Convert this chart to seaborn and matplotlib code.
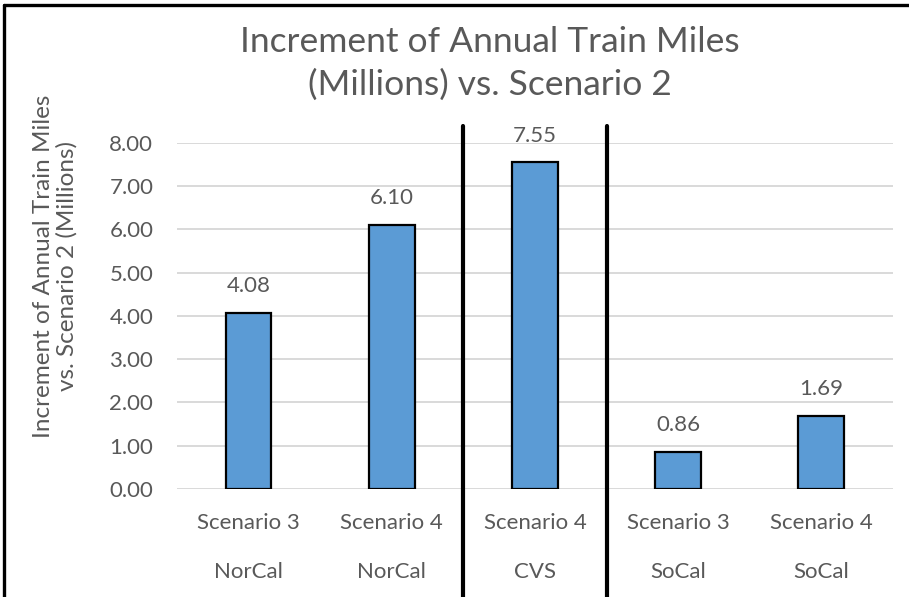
import numpy as np
import pandas as pd
import matplotlib
matplotlib.use("Agg")
import matplotlib.pyplot as plt
import seaborn as sns

# chart data
scenarios = ["Scenario 3", "Scenario 4", "Scenario 4", "Scenario 3", "Scenario 4"]
regions = ["NorCal", "NorCal", "CVS", "SoCal", "SoCal"]
increments = [4.08, 6.10, 7.55, 0.86, 1.69]
y_ticks = [0, 1, 2, 3, 4, 5, 6, 7, 8]

title = "Increment of Annual Train Miles\n(Millions) vs. Scenario 2"
y_label = "Increment of Annual Train Miles\nvs. Scenario 2 (Millions)"

df = pd.DataFrame({
    "label": [f"{s}\n{r}" for s, r in zip(scenarios, regions)],
    "value": increments,
})

sns.set_theme(style="white")
plt.rcParams["font.family"] = ["Lato", "DejaVu Sans"]
text_grey = "#595959"

fig = plt.figure(figsize=(9.09, 5.97), dpi=100)
ax = fig.add_axes([0.1947, 0.1809, 0.7877, 0.5796])

ax.set_axisbelow(True)
ax.yaxis.grid(True, color="#D9D9D9", linewidth=1.4)
sns.barplot(data=df, x="label", y="value", ax=ax, color="#5B9BD5",
            saturation=1, width=0.32, edgecolor="black", linewidth=1.6)

ax.set_ylim(0, 8)
ax.set_xlim(-0.5, len(df) - 0.5)
ax.set_yticks(y_ticks)
ax.set_yticklabels([f"{t:.2f}" for t in y_ticks], fontsize=16, color=text_grey)
ax.tick_params(axis="y", length=0, pad=17)
ax.tick_params(axis="x", length=0, pad=17)
for lbl in ax.get_xticklabels():
    lbl.set_fontsize(16)
    lbl.set_color(text_grey)
    lbl.set_linespacing(2.85)
    lbl.set_verticalalignment("top")

ax.set_xlabel("")
ax.set_ylabel(y_label, fontsize=17.5, color=text_grey, linespacing=1.1)
ax.yaxis.set_label_coords(-0.139, 0.645)

for c in ax.containers:
    ax.bar_label(c, fmt="%.2f", padding=12, fontsize=16, color=text_grey)

sns.despine(ax=ax, left=True, bottom=True)

# region separators between groups
for i in range(1, len(regions)):
    if regions[i] != regions[i - 1]:
        ax.axvline(i - 0.5, ymin=-0.315, ymax=1.05, color="black",
                   linewidth=3, clip_on=False)

fig.text(0.539, 0.893, title, ha="center", va="center", fontsize=25.5,
         color=text_grey, linespacing=1.4)

# outer frame (left and top edges visible)
fig.add_artist(plt.Line2D([0.0045, 0.0045], [0, 0.992], color="black", linewidth=2.4))
fig.add_artist(plt.Line2D([0.0045, 1], [0.992, 0.992], color="black", linewidth=2.4))

fig.savefig("out.png", dpi=100)
